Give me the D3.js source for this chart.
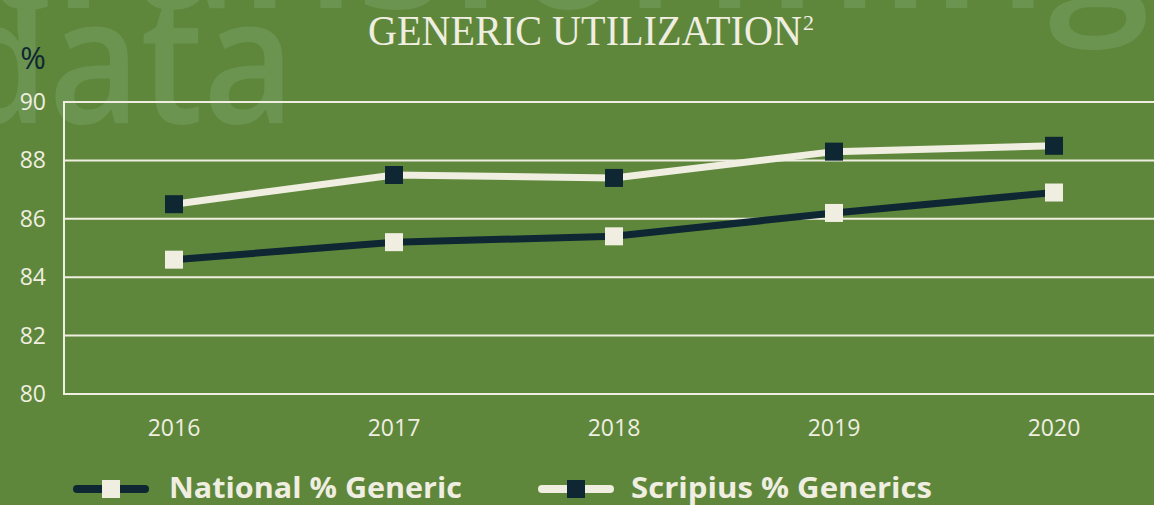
<!DOCTYPE html>
<html>
<head>
<meta charset="utf-8">
<script src="https://cdn.jsdelivr.net/npm/d3@7"></script>
<style>
  html, body { margin: 0; padding: 0; background: #5e873b; }
  svg { display: block; }
</style>
</head>
<body>
<div id="vis"></div>
<script>
const width = 1154;
const height = 505;

const years = ["2016", "2017", "2018", "2019", "2020"];
const national = [84.6, 85.2, 85.4, 86.2, 86.9];
const scripius = [86.5, 87.5, 87.4, 88.3, 88.5];
const yTicks = [80, 82, 84, 86, 88, 90];
const seriesNames = ["National % Generic", "Scripius % Generics"];

const bg = "#5e873b";
const cream = "#efeee0";
const navy = "#0f2733";
const faint = "#6a9450";

const svg = d3.select("#vis")
  .append("svg")
  .attr("width", width)
  .attr("height", height);

svg.append("rect")
  .attr("width", width)
  .attr("height", height)
  .attr("fill", bg);

// faint background lettering
svg.append("text")
  .attr("x", -50)
  .attr("y", 123)
  .attr("font-family", "Open Sans, sans-serif")
  .attr("font-weight", 600)
  .attr("font-size", 175)
  .attr("fill", faint)
  .attr("textLength", 345)
  .attr("lengthAdjust", "spacingAndGlyphs")
  .text("data");

svg.append("text")
  .attr("x", -20)
  .attr("y", 8)
  .attr("font-family", "Open Sans, sans-serif")
  .attr("font-weight", 600)
  .attr("font-size", 175)
  .attr("fill", faint)
  .attr("textLength", 1170)
  .attr("lengthAdjust", "spacingAndGlyphs")
  .text("transforming");

const x = d3.scaleBand()
  .domain(years)
  .range([64, 1164]);

const y = d3.scaleLinear()
  .domain([80, 90])
  .range([394, 102]);

// grid
svg.append("g")
  .selectAll("line")
  .data(yTicks)
  .enter()
  .append("line")
  .attr("x1", 64)
  .attr("x2", width)
  .attr("y1", d => y(d))
  .attr("y2", d => y(d))
  .attr("stroke", cream)
  .attr("stroke-width", 2);

svg.append("line")
  .attr("x1", 64)
  .attr("x2", 64)
  .attr("y1", y(90) - 1)
  .attr("y2", y(80) + 1)
  .attr("stroke", cream)
  .attr("stroke-width", 2);

// y labels
svg.append("g")
  .selectAll("text")
  .data(yTicks)
  .enter()
  .append("text")
  .attr("x", 46)
  .attr("y", d => y(d) + 8)
  .attr("text-anchor", "end")
  .attr("font-family", "Open Sans, sans-serif")
  .attr("font-size", 23)
  .attr("fill", cream)
  .text(d => d);

svg.append("text")
  .attr("x", 33)
  .attr("y", 69)
  .attr("text-anchor", "middle")
  .attr("font-family", "Open Sans, sans-serif")
  .attr("font-size", 31)
  .attr("fill", navy)
  .text("%");

// x labels
svg.append("g")
  .selectAll("text")
  .data(years)
  .enter()
  .append("text")
  .attr("x", d => x(d) + x.bandwidth() / 2)
  .attr("y", 436)
  .attr("text-anchor", "middle")
  .attr("font-family", "Open Sans, sans-serif")
  .attr("font-size", 23)
  .attr("fill", cream)
  .text(d => d);

// title
const title = svg.append("text")
  .attr("x", 368)
  .attr("y", 45)
  .attr("font-family", "Liberation Serif, serif")
  .attr("font-size", 42)
  .attr("fill", cream);
title.append("tspan")
  .attr("textLength", 434)
  .attr("lengthAdjust", "spacingAndGlyphs")
  .text("GENERIC UTILIZATION");
title.append("tspan")
  .attr("x", 803)
  .attr("y", 30)
  .attr("font-size", 22)
  .text("2");

const cx = d => x(d) + x.bandwidth() / 2;
const sq = 18;

function drawSeries(values, lineColor, markColor) {
  const pts = years.map((yr, i) => ({ year: yr, value: values[i] }));
  svg.append("path")
    .datum(pts)
    .attr("fill", "none")
    .attr("stroke", lineColor)
    .attr("stroke-width", 7)
    .attr("d", d3.line()
      .x(d => cx(d.year))
      .y(d => y(d.value)));

  svg.append("g")
    .selectAll("rect")
    .data(pts)
    .enter()
    .append("rect")
    .attr("x", d => cx(d.year) - sq / 2)
    .attr("y", d => y(d.value) - sq / 2)
    .attr("width", sq)
    .attr("height", sq)
    .attr("fill", markColor);
}

drawSeries(national, navy, cream);
drawSeries(scripius, cream, navy);

// legend
const legend = [
  { name: seriesNames[0], x: 73, line: navy, mark: cream, tx: 169, tl: 293 },
  { name: seriesNames[1], x: 538, line: cream, mark: navy, tx: 631, tl: 301 }
];

legend.forEach(l => {
  svg.append("line")
    .attr("x1", l.x + 4)
    .attr("x2", l.x + 72)
    .attr("y1", 489)
    .attr("y2", 489)
    .attr("stroke", l.line)
    .attr("stroke-width", 8)
    .attr("stroke-linecap", "round");
  svg.append("rect")
    .attr("x", l.x + 29)
    .attr("y", 480)
    .attr("width", sq)
    .attr("height", sq)
    .attr("fill", l.mark);
  svg.append("text")
    .attr("x", l.tx)
    .attr("y", 498)
    .attr("font-family", "Open Sans, sans-serif")
    .attr("font-weight", "bold")
    .attr("font-size", 28)
    .attr("fill", cream)
    .attr("textLength", l.tl)
    .attr("lengthAdjust", "spacingAndGlyphs")
    .text(l.name);
});
</script>
</body>
</html>
